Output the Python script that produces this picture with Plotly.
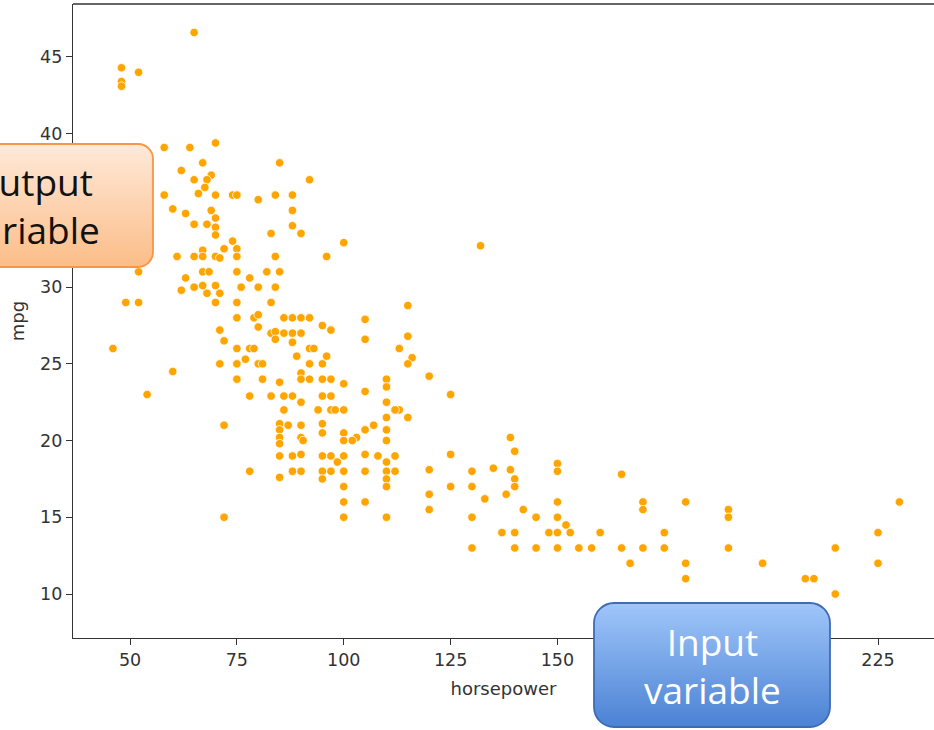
import base64
import plotly.graph_objects as go

# ---------------- data ----------------
horsepower = [
    46, 48, 48, 48, 52, 65, 54, 49, 52, 52, 60, 72, 72, 78,
    58, 64, 70, 85, 92, 100, 96, 62, 67, 69, 65, 68, 67.5, 66,
    58, 70, 74, 75, 80, 84, 88, 60, 63, 69, 70, 65, 68, 70, 70,
    88, 88, 90, 83, 74, 72, 75, 75, 67, 61, 65, 67, 70, 71, 84,
    67, 68.5, 75, 82, 85, 78, 63, 62, 65, 67, 70, 68, 71, 76, 80, 84, 132,
    70, 75, 83, 75, 79, 80, 86, 88, 90, 92, 95, 97, 105, 105, 113,
    71, 80, 83, 84, 86, 88, 90, 84, 88, 72, 75, 78, 79, 92, 93,
    89, 96, 77, 71, 75, 80, 81, 92, 95, 90, 90, 75, 81, 85, 92, 95, 97,
    100, 105, 110, 110, 78, 83, 86, 88, 90, 95, 97, 86, 94, 97, 98, 100,
    110, 110, 85, 87, 90, 95, 107, 105, 110, 85, 85, 90, 95, 100, 103,
    115, 115, 116, 115, 120, 125, 113, 112, 115,
    100, 102, 110, 85, 90.5, 85, 88, 90, 95, 97, 100, 98.5, 105, 108, 110,
    112, 125, 85, 88, 90, 95, 95, 97, 100, 105, 110, 110, 112, 110, 120,
    120, 120, 125, 100, 100, 105, 100, 110,
    139, 140, 130, 135, 139, 150, 150, 140, 140, 130, 138, 133, 165, 150,
    170, 170, 180, 142, 145, 130, 150, 152, 137, 140, 148, 150, 153, 160,
    175, 130, 140, 145, 150, 155, 158, 165, 170, 175, 167, 180, 180,
    190, 190, 230, 225, 190, 215, 198, 225, 208, 210, 215,
]
mpg = [
    26, 44.3, 43.4, 43.1, 44, 46.6, 23, 29, 29, 31, 24.5, 15, 21, 18,
    39.1, 39.1, 39.4, 38.1, 37, 32.9, 32, 37.6, 38.1, 37.3, 37, 37, 36.5, 36.1,
    36, 36, 36, 36, 35.7, 36, 36, 35.1, 34.8, 35, 34.5, 34.1, 34.1, 33.9, 33.4,
    35, 34, 33.5, 33.5, 33, 32.5, 32.5, 32, 32.4, 32, 32, 32, 32, 31.9, 32,
    31, 31, 31, 31, 31, 30.6, 30.6, 29.8, 30, 30.1, 30.1, 29.6, 29.6, 30, 30, 30, 32.7,
    29, 29, 29, 28, 28, 28.2, 28, 28, 28, 28, 27.5, 27.2, 27.9, 26.6, 26,
    27.2, 27.4, 27, 27.1, 27, 27, 27, 26.6, 26.4, 26.5, 26, 26, 26, 26, 26,
    25.5, 25.5, 25.3, 25, 25, 25, 25, 25, 25, 24.4, 24, 24, 24, 23.8, 24, 24, 24,
    23.7, 23.2, 24, 23.5, 22.9, 22.9, 22.9, 22.9, 22.5, 22.9, 22.9, 22, 22, 22, 22, 22,
    22.5, 21.5, 21.1, 21, 21, 21.1, 21, 20.7, 20.7, 20.7, 20.2, 20.2, 20.5, 20.5, 20.2,
    28.8, 26.8, 25.4, 25, 24.2, 23, 22, 22, 21.5,
    20, 20, 20, 19.8, 20, 19, 19, 19.1, 19, 19, 19, 18.6, 19.1, 19, 18.6,
    19, 19.1, 17.6, 18, 18, 18, 17.5, 18, 18, 18, 18, 17.5, 18, 17, 18.1,
    16.5, 15.5, 17, 17, 16, 16, 15, 15,
    20.2, 19.3, 18, 18.2, 18.1, 18.5, 18, 17.5, 17, 17, 16.5, 16.2, 17.8, 16,
    16, 15.5, 16, 15.5, 15, 15, 15, 14.5, 14, 14, 14, 14, 14, 14,
    14, 13, 13, 13, 13, 13, 13, 13, 13, 13, 12, 12, 11,
    15.5, 15, 16, 14, 13, 13, 12, 12, 11, 11, 10,
]

x_ticks = [50, 75, 100, 125, 150, 175, 200, 225]
y_ticks = [10, 15, 20, 25, 30, 35, 40, 45]

# ---------------- layout geometry (pixels) ----------------
W, H = 934, 730
ML, MR, MT, MB = 73, 0, 4, 92
PW, PH = W - ML - MR, H - MT - MB


def px_x(px):
    return (px - ML) / PW


def px_y(py):
    return (H - MB - py) / PH


def box_svg(w, h, r, top, bottom, stroke):
    svg = (
        f'<svg xmlns="http://www.w3.org/2000/svg" width="{w}" height="{h}" '
        f'viewBox="0 0 {w} {h}" preserveAspectRatio="none">'
        '<defs><linearGradient id="g" x1="0" y1="0" x2="0" y2="1">'
        f'<stop offset="0" stop-color="{top}"/><stop offset="1" stop-color="{bottom}"/>'
        '</linearGradient></defs>'
        f'<rect x="1" y="1" width="{w - 2}" height="{h - 2}" rx="{r}" ry="{r}" '
        f'fill="url(#g)" stroke="{stroke}" stroke-width="1.8"/></svg>'
    )
    return "data:image/svg+xml;base64," + base64.b64encode(svg.encode()).decode()


def box_image(left, top, right, bottom, r, c_top, c_bottom, stroke):
    w, h = right - left, bottom - top
    return dict(
        source=box_svg(w, h, r, c_top, c_bottom, stroke),
        xref="paper", yref="paper",
        x=px_x(left), y=px_y(top),
        sizex=w / PW, sizey=h / PH,
        xanchor="left", yanchor="top",
        sizing="stretch", layer="above",
    )


fig = go.Figure()
fig.add_trace(
    go.Scatter(
        x=horsepower,
        y=mpg,
        mode="markers",
        marker=dict(color="#FFA500", size=8.5, line=dict(color="white", width=0.8)),
        showlegend=False,
        hoverinfo="x+y",
    )
)

tick_font = dict(family="DejaVu Sans", size=17.5, color="#333333")
title_font = dict(family="DejaVu Sans", size=18, color="#333333")

fig.update_layout(
    width=W,
    height=H,
    margin=dict(l=ML, r=MR, t=MT, b=MB, pad=0),
    paper_bgcolor="white",
    plot_bgcolor="white",
    font=dict(family="DejaVu Sans"),
    xaxis=dict(
        range=[36.66, 238.1],
        tickmode="array",
        tickvals=x_ticks,
        ticktext=[str(v) for v in x_ticks],
        ticks="outside",
        ticklen=6,
        tickwidth=1.2,
        tickcolor="#333333",
        tickfont=tick_font,
        showgrid=False,
        zeroline=False,
        showline=True,
        linecolor="#333333",
        linewidth=1.3,
        title=dict(text="horsepower", font=title_font, standoff=13),
    ),
    yaxis=dict(
        range=[7.132, 48.454],
        tickmode="array",
        tickvals=y_ticks,
        ticktext=[str(v) for v in y_ticks],
        ticks="outside",
        ticklen=6,
        tickwidth=1.2,
        tickcolor="#333333",
        tickfont=tick_font,
        showgrid=False,
        zeroline=False,
        showline=True,
        linecolor="#333333",
        linewidth=1.3,
        title=dict(text="mpg", font=title_font, standoff=10),
    ),
    shapes=[
        dict(type="line", xref="paper", yref="paper", x0=0, x1=1, y0=1, y1=1,
             line=dict(color="#333333", width=1.3)),
    ],
    images=[
        box_image(-92, 143, 154, 268, 15, "#FFE9D9", "#FBBD88", "#F79646"),
        box_image(593, 602, 831, 728, 20, "#A0C6FA", "#4B82D4", "#3F6BB5"),
    ],
    annotations=[
        dict(text="Output<br>variable", xref="paper", yref="paper",
             x=px_x(31), y=px_y(205.5), xanchor="center", yanchor="middle",
             showarrow=False, align="center",
             font=dict(family="Open Sans", size=37, color="#111111")),
        dict(text="Input<br>variable", xref="paper", yref="paper",
             x=px_x(712), y=px_y(665), xanchor="center", yanchor="middle",
             showarrow=False, align="center",
             font=dict(family="Open Sans", size=37, color="white")),
    ],
)

fig.write_html(
    "out.html",
    config={"displayModeBar": False},
    post_script="document.body.style.margin='0';document.body.style.overflow='hidden';",
)
